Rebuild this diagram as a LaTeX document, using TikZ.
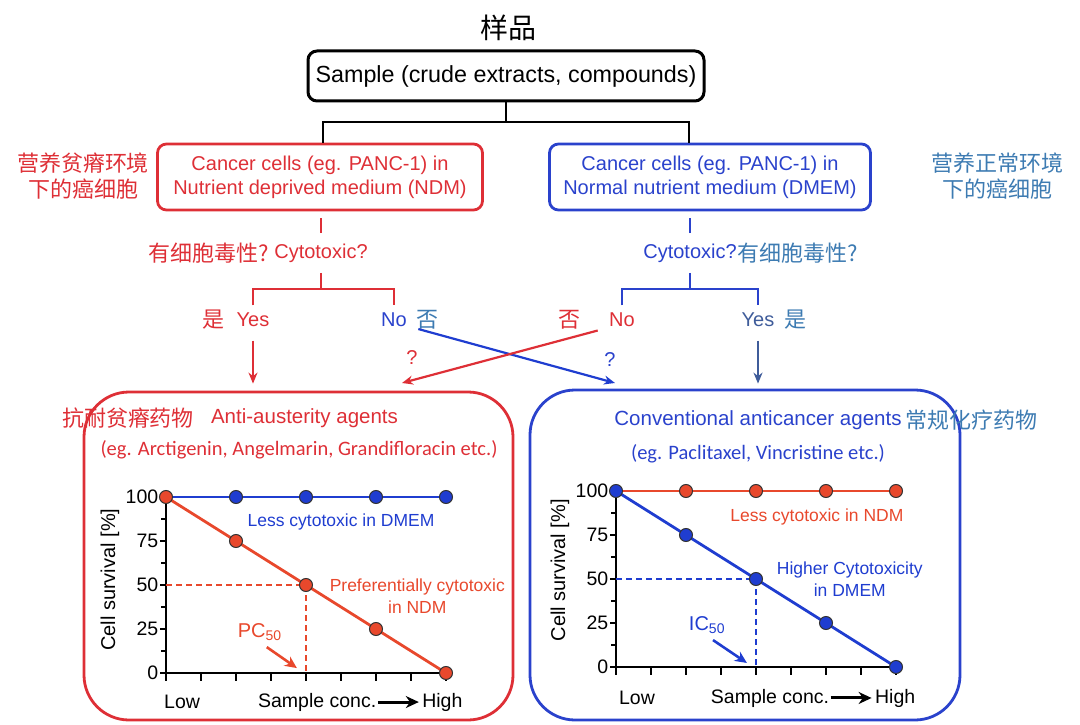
\documentclass[tikz,border=0pt]{standalone}
\usepackage{fontspec}
\setmainfont{Liberation Sans}
\newfontfamily\cjk{Noto Sans CJK SC}
\newfontfamily\egfont{Carlito}
\usetikzlibrary{arrows.meta,positioning}

\definecolor{ndmred}{HTML}{DE2F36}
\definecolor{dmemblue}{HTML}{2A42CC}
\definecolor{cnblue}{HTML}{3D7BB2}
\definecolor{yesblue}{HTML}{3F5C9A}
\definecolor{curvered}{HTML}{E8482C}
\definecolor{curveblue}{HTML}{1F3DD0}

\tikzset{
  entxt/.style={font=\fontsize{20}{24}\selectfont},
  cntxt/.style={font=\cjk\fontsize{22}{26}\selectfont, align=center},
  egtxt/.style={font=\egfont\fontsize{20.5}{24}\selectfont},
  plottxt/.style={font=\fontsize{17.5}{22}\selectfont, align=center},
  axistxt/.style={font=\fontsize{19.5}{23}\selectfont},
  cellbox/.style={draw, rounded corners=9pt, line width=2.8pt, align=center, font=\fontsize{20}{24}\selectfont},
  agentbox/.style={draw, rounded corners=45pt, line width=2.8pt},
  forkline/.style={line width=2.7pt},
  arrowline/.style={-{Stealth[length=11pt,width=9pt]}, line width=2.2pt},
  axisline/.style={line width=2.6pt},
  datadot/.style={circle, draw=black!80, line width=1pt, inner sep=0pt, minimum size=13pt},
  smallarrow/.style={-{Stealth[length=12pt,width=11pt]}, line width=2.6pt},
  concarrow/.style={-{Stealth[length=13pt,width=12pt]}, line width=3pt, shorten <=-2pt, shorten >=0pt},
}

\begin{document}
\begin{tikzpicture}[x=1pt, y=-1pt]
\useasboundingbox (0,0) rectangle (1080,725);

\node[font=\cjk\fontsize{28}{32}\selectfont] (sampleCN) at (508,28) {样品};
\node[draw, line width=3pt, rounded corners=9pt, minimum width=396pt, minimum height=50pt, font=\fontsize{23.3}{28}\selectfont] (sample) at (506,76) {Sample (crude extracts, compounds)};

\node[cellbox, draw=ndmred, text=ndmred, minimum width=325pt, minimum height=66pt] (ndm) at (320,177) {Cancer cells (eg. PANC-1) in\\Nutrient deprived medium (NDM)};
\node[cellbox, draw=dmemblue, text=dmemblue, minimum width=321pt, minimum height=66pt] (dmem) at (710,177) {Cancer cells (eg. PANC-1) in\\Normal nutrient medium (DMEM)};
\node[cntxt, text=ndmred] (ndmCN) at (83,176) {营养贫瘠环境\\下的癌细胞};
\node[cntxt, text=cnblue] (dmemCN) at (997,176) {营养正常环境\\下的癌细胞};

\coordinate (split) at (506,122);
\draw[forkline] (sample.south) -- (split);
\draw[forkline] ([xshift=3pt]ndm.north) |- (split) -| ([xshift=-21pt]dmem.north);

\node[entxt, text=ndmred] (qNDM) at (321,253) {Cytotoxic?};
\node[cntxt, text=ndmred, left=-2pt of qNDM] (qNDMcn) {有细胞毒性?};
\node[entxt, text=dmemblue] (qDMEM) at (690,253) {Cytotoxic?};
\node[cntxt, text=cnblue, right=-6pt of qDMEM] (qDMEMcn) {有细胞毒性?};

\node[entxt, text=ndmred] (yesNDM) at (253,320) {Yes};
\node[cntxt, text=ndmred, left=5pt of yesNDM] (yesNDMcn) {是};
\node[entxt, text=dmemblue] (noNDM) at (394,320) {No};
\node[cntxt, text=cnblue, right=3pt of noNDM] (noNDMcn) {否};
\node[entxt, text=ndmred] (noDMEM) at (622,320) {No};
\node[cntxt, text=ndmred, left=22pt of noDMEM] (noDMEMcn) {否};
\node[entxt, text=yesblue] (yesDMEM) at (758,320) {Yes};
\node[cntxt, text=cnblue, right=3pt of yesDMEM] (yesDMEMcn) {是};

\draw[forkline, ndmred] ([yshift=7pt]qNDM.north) -- ++(0,-15);
\draw[forkline, ndmred] ([yshift=-7pt]qNDM.south) -- ++(0,16) coordinate (forkNDM);
\draw[forkline, ndmred] ([yshift=4pt]yesNDM.north) |- (forkNDM) -| ([yshift=4pt]noNDM.north);
\draw[forkline, dmemblue] ([yshift=7pt]qDMEM.north) -- ++(0,-15);
\draw[forkline, dmemblue] ([yshift=-7pt]qDMEM.south) -- ++(0,16) coordinate (forkDMEM);
\draw[forkline, dmemblue] ([yshift=4pt]noDMEM.north) |- (forkDMEM) -| ([yshift=4pt]yesDMEM.north);

\node[agentbox, draw=ndmred, minimum width=429pt, minimum height=328pt] (anti) at (298.5,556) {};
\node[agentbox, draw=dmemblue, minimum width=430pt, minimum height=330pt] (conv) at (745,555) {};

\draw[arrowline, ndmred, shorten <=10pt, shorten >=7pt] (yesNDM.south) -- (yesNDM.south |- anti.north);
\draw[arrowline, yesblue, shorten <=10pt, shorten >=5pt] (yesDMEM.south) -- (yesDMEM.south |- conv.north);
\coordinate (crossBlueEnd) at (615,383);
\coordinate (crossRedEnd) at (402,383);
\draw[arrowline, curveblue] ([xshift=5pt,yshift=4pt]noNDMcn.south west) -- (crossBlueEnd);
\draw[arrowline, ndmred] ([xshift=-8pt]noDMEM.south west) -- (crossRedEnd);
\node[entxt, text=ndmred] (qmRed) at (412,358) {?};
\node[entxt, text=dmemblue] (qmBlue) at (610,360) {?};

\node[cntxt, text=ndmred] (antiCN) at (128,418) {抗耐贫瘠药物};
\node[entxt, font=\fontsize{20.5}{24}\selectfont, text=ndmred, right=10pt of antiCN] (antiEN) {Anti-austerity agents};
\node[egtxt, text=ndmred] (antiEg) at (299,450) {(eg. Arctigenin, Angelmarin, Grandifloracin etc.)};
\node[entxt, font=\fontsize{20.5}{24}\selectfont, text=dmemblue] (convEN) at (758,420) {Conventional anticancer agents};
\node[cntxt, text=cnblue, right=-3pt of convEN] (convCN) {常规化疗药物};
\node[egtxt, text=dmemblue] (convEg) at (758,454) {(eg. Paclitaxel, Vincristine etc.)};

\begin{scope}[shift={(166,673)}, x=70pt, y=1.76pt]
\draw[axisline] (0,100) -- (0,0) -- (4,0);
\foreach \v in {0,25,50,75,100}
  \draw[axisline] (0,\v) -- ++(-6pt,0pt) node[left, axistxt, inner sep=0.5pt] {\v};
\foreach \v in {12.5,37.5,62.5,87.5}
  \draw[axisline] (0,\v) -- ++(-5pt,0pt);
\foreach \i in {0,0.5,...,4}
  \draw[axisline] (\i,0) -- ++(0pt,-8pt);
\draw[curvered, line width=1.5pt, dash pattern=on 6pt off 4pt] (0,50) -- (2,50) -- (2,0);
\draw[curveblue, line width=2.8pt] (0,100) -- (4,100);
\foreach \i in {1,...,4}
  \node[datadot, fill=curveblue] (ndmFlat\i) at (\i,100) {};
\draw[curvered, line width=2.8pt] (0,100) -- (4,0);
\foreach \i in {0,...,4}
  \node[datadot, fill=curvered] (ndmDrop\i) at (\i,{100-25*\i}) {};
\node[plottxt, text=curveblue] (ndmFlatLbl) at (2.5,86) {Less cytotoxic in DMEM};
\node[plottxt, text=curvered] (ndmDropLbl) at (3.59,43.7) {Preferentially cytotoxic\\in NDM};
\node[font=\fontsize{20}{24}\selectfont, text=curvered] (pc50) at (1.34,23.3) {PC\textsubscript{50}};
\coordinate (pcTip) at (1.87,2.8);
\draw[smallarrow, curvered] ([xshift=7pt,yshift=-3pt]pc50.south) -- (pcTip);
\node[axistxt, font=\fontsize{20}{24}\selectfont, rotate=90] (ndmYlbl) at (-0.8,53) {Cell survival [\%]};
\node[axistxt] (ndmLow) at (0.23,-16.5) {Low};
\node[axistxt] (ndmConc) at (2.16,-16.5) {Sample conc.};
\node[axistxt, right=39pt of ndmConc] (ndmHigh) {High};
\draw[concarrow] (ndmConc) -- (ndmHigh);
\end{scope}

\begin{scope}[shift={(616,667)}, x=70pt, y=1.76pt]
\draw[axisline] (0,100) -- (0,0) -- (4,0);
\foreach \v in {0,25,50,75,100}
  \draw[axisline] (0,\v) -- ++(-6pt,0pt) node[left, axistxt, inner sep=0.5pt] {\v};
\foreach \v in {12.5,37.5,62.5,87.5}
  \draw[axisline] (0,\v) -- ++(-5pt,0pt);
\foreach \i in {0,0.5,...,4}
  \draw[axisline] (\i,0) -- ++(0pt,-8pt);
\draw[curveblue, line width=1.5pt, dash pattern=on 6pt off 4pt] (0,50) -- (2,50) -- (2,0);
\draw[curvered, line width=2.8pt] (0,100) -- (4,100);
\foreach \i in {1,...,4}
  \node[datadot, fill=curvered] (dmemFlat\i) at (\i,100) {};
\draw[curveblue, line width=2.8pt] (0,100) -- (4,0);
\foreach \i in {0,...,4}
  \node[datadot, fill=curveblue] (dmemDrop\i) at (\i,{100-25*\i}) {};
\node[plottxt, text=curvered] (dmemFlatLbl) at (2.87,85.2) {Less cytotoxic in NDM};
\node[plottxt, text=curveblue] (dmemDropLbl) at (3.34,50) {Higher Cytotoxicity\\in DMEM};
\node[font=\fontsize{20}{24}\selectfont, text=curveblue] (ic50) at (1.3,23.9) {IC\textsubscript{50}};
\coordinate (icTip) at (1.87,2.3);
\draw[smallarrow, curveblue] ([xshift=6pt,yshift=-3pt]ic50.south) -- (icTip);
\node[axistxt, font=\fontsize{20}{24}\selectfont, rotate=90] (dmemYlbl) at (-0.8,55) {Cell survival [\%]};
\node[axistxt] (dmemLow) at (0.3,-17.6) {Low};
\node[axistxt] (dmemConc) at (2.2,-17.6) {Sample conc.};
\node[axistxt, right=39pt of dmemConc] (dmemHigh) {High};
\draw[concarrow] (dmemConc) -- (dmemHigh);
\end{scope}
\end{tikzpicture}
\end{document}
